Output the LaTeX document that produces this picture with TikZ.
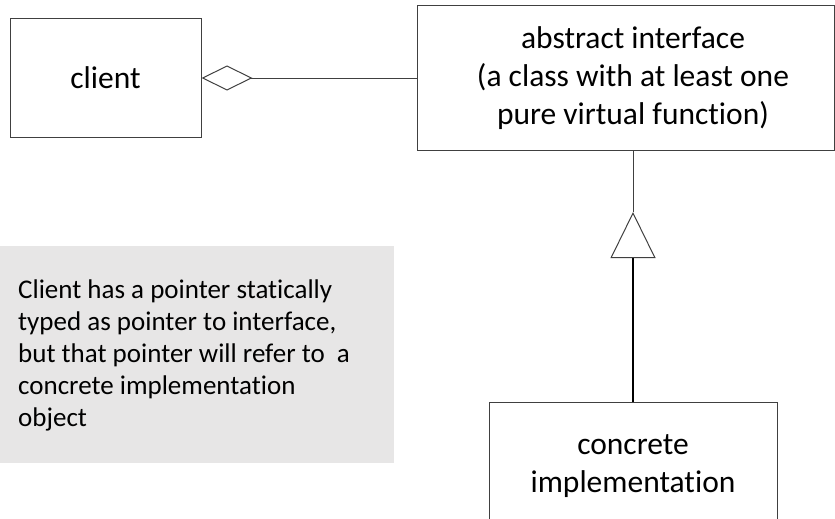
\documentclass[tikz,border=0pt]{standalone}
\usepackage{fontspec}
\setmainfont{Carlito}[Ligatures=NoCommon]
\usetikzlibrary{arrows.meta}
\definecolor{edge}{HTML}{404040}
\definecolor{notefill}{HTML}{E7E6E6}
\begin{document}
\begin{tikzpicture}[x=1pt,y=-1pt,
  classbox/.style={draw=edge, line width=1pt, fill=white, inner sep=0pt},
  boxtext/.style={font=\fontsize{31.5}{38}\selectfont, align=center, inner sep=0pt},
  notetext/.style={font=\fontsize{27}{32}\selectfont, align=left, inner sep=0pt},
  link/.style={draw=edge, line width=1pt},
  realize/.style={draw=black, line width=2pt}]
\clip (0,0) rectangle (835,519);

% classes
\node[classbox, boxtext, minimum width=191pt, minimum height=119pt] (client) at (105.5,78) {client};
\node[classbox, minimum width=417pt, minimum height=144pt] (iface) at (625.5,78) {};
\node[boxtext, anchor=north] (ifacetext) at (633,22)
  {\strut abstract interface\\ (a class with at least one\\ pure virtual function)};
\node[classbox, minimum width=288pt, minimum height=140pt] (impl) at (633,472) {};
\node[boxtext, anchor=north] (impltext) at (633,427.5) {\strut concrete\\ implementation};

% note
\node[fill=notefill, minimum width=394pt, minimum height=217pt, anchor=north west, inner sep=0pt] (note) at (0,246) {};
\node[notetext, anchor=north west] (notetext) at (18,275.6)
  {\strut Client has a pointer statically\\ typed as pointer to interface,\\ but that pointer will refer to\ \ a\\ concrete implementation\\ object};

% aggregation
\draw[link, {Diamond[open, length=51pt, width=25pt, line width=1pt]}-] (client.east) -- (iface.west);

% realization
\coordinate (apex) at (633,212);
\draw[link] (iface.south -| impl.north) -- (apex);
\draw[realize, -{Triangle[open, length=46pt, width=45pt, line width=1pt, color=edge]}] (impl.north) -- (apex);
\end{tikzpicture}
\end{document}
